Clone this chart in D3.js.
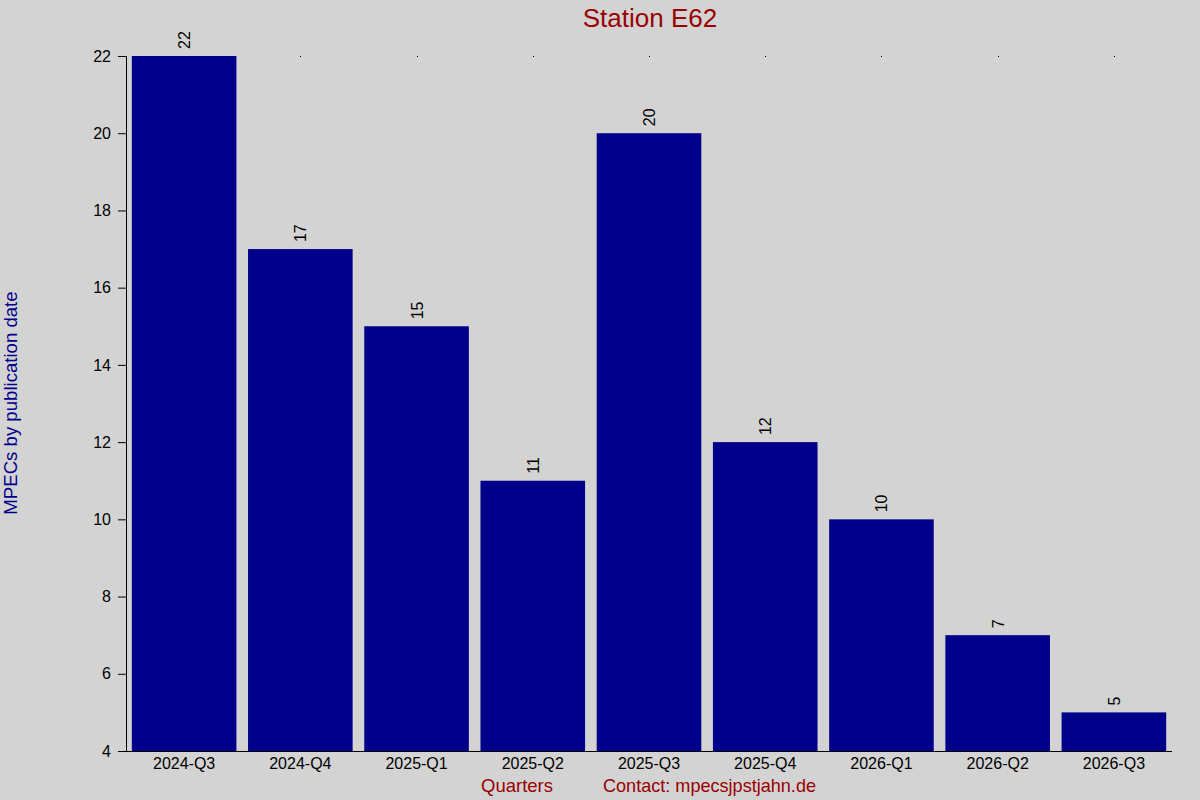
<!DOCTYPE html>
<html><head><meta charset="utf-8">
<script src="https://cdn.jsdelivr.net/npm/d3@7"></script>
<style>body{margin:0;background:#d3d3d3}svg{display:block}text{font-family:"Liberation Sans",Arial,sans-serif}</style>
</head><body><svg id="c" width="1200" height="800"></svg>
<script>
const categories = ["2024-Q3","2024-Q4","2025-Q1","2025-Q2","2025-Q3","2025-Q4","2026-Q1","2026-Q2","2026-Q3"];
const values = [22,17,15,11,20,12,10,7,5];
const yTicks = [4,6,8,10,12,14,16,18,20,22];

const svg = d3.select("#c");
svg.append("rect").attr("width",1200).attr("height",800).attr("fill","#d3d3d3");
const L=126,R=1172,T=56,B=751;
const x = d3.scaleBand().domain(categories).range([L,R]).paddingInner(0.1).paddingOuter(0.05);
const y = d3.scaleLinear().domain([4,22]).range([B,T]);

// top dots
svg.append("g").selectAll("rect").data(categories).join("rect")
  .attr("x",d=>Math.round(x(d)+x.bandwidth()/2)).attr("y",T).attr("width",1).attr("height",1).attr("fill","#000");

svg.append("g").selectAll("rect").data(values).join("rect")
  .attr("x",(d,i)=>x(categories[i])).attr("width",x.bandwidth())
  .attr("y",d=>y(d)).attr("height",d=>B-y(d)).attr("fill","#00008b");

svg.append("g").selectAll("text").data(values).join("text")
  .attr("transform",(d,i)=>`translate(${x(categories[i])+x.bandwidth()/2+6},${y(d)-7}) rotate(-90)`)
  .attr("font-size",16).attr("fill","#000").text(d=>d);

const ya = svg.append("g").attr("transform",`translate(${L},0)`)
  .call(d3.axisLeft(y).tickValues(yTicks).tickSize(8).tickPadding(7));
ya.select(".domain").attr("d",`M0.5,${T}V${B}`).attr("stroke","#000");
ya.selectAll("text").attr("font-size",16).attr("fill","#000").attr("font-family","Liberation Sans, Arial, sans-serif");
ya.selectAll(".tick line").attr("stroke","#000");

const xa = svg.append("g").attr("transform",`translate(0,${B})`)
  .call(d3.axisBottom(x).tickSize(0).tickPadding(7));
xa.select(".domain").attr("d",`M${L-8},0.5H${R}`).attr("stroke","#000");
xa.selectAll("text").attr("font-size",16).attr("fill","#000").attr("font-family","Liberation Sans, Arial, sans-serif");

svg.append("text").attr("x",650).attr("y",27).attr("text-anchor","middle")
  .attr("font-size",26).attr("fill","#990000").text("Station E62");
svg.append("text").attr("transform","translate(17,403) rotate(-90)").attr("text-anchor","middle")
  .attr("font-size",18.6).attr("fill","#00008b").text("MPECs by publication date");
svg.append("text").attr("x",481).attr("y",792).attr("font-size",18.5).attr("fill","#990000").text("Quarters");
svg.append("text").attr("x",603).attr("y",792).attr("font-size",18.5).attr("fill","#990000")
  .attr("textLength",213).attr("lengthAdjust","spacingAndGlyphs").text("Contact: mpecsjpstjahn.de");
</script></body></html>
